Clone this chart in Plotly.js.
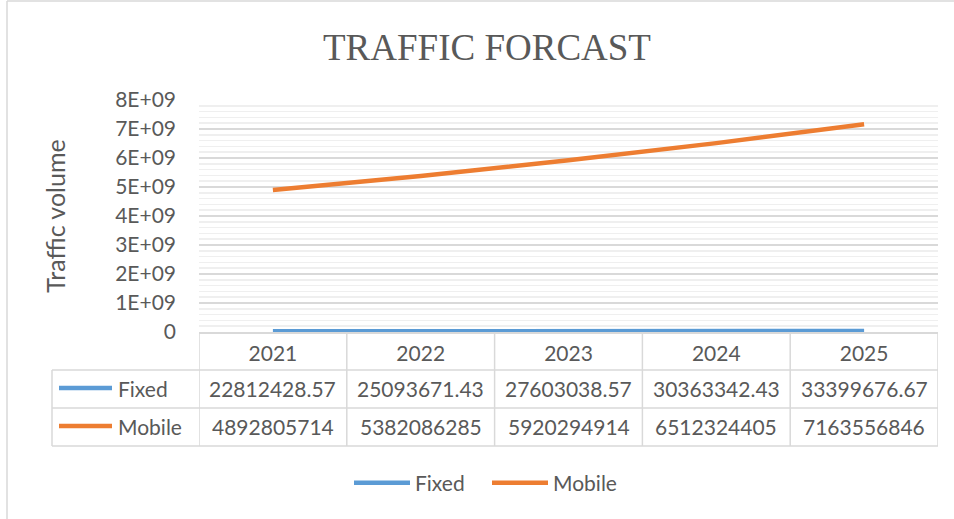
<!DOCTYPE html>
<html>
<head>
<meta charset="utf-8">
<script src="https://cdn.plot.ly/plotly-3.0.1.min.js"></script>
<style>
html,body{margin:0;padding:0;background:#fff;}
#chart{width:954px;height:519px;}
</style>
</head>
<body>
<div id="chart"></div>
<script>
// ---- data ----
const categories = ["2021", "2022", "2023", "2024", "2025"];
const seriesNames = ["Fixed", "Mobile"];
const fixedValues = [22812428.57, 25093671.43, 27603038.57, 30363342.43, 33399676.67];
const mobileValues = [4892805714, 5382086285, 5920294914, 6512324405, 7163556846];
const yTickVals = [0, 1e9, 2e9, 3e9, 4e9, 5e9, 6e9, 7e9, 8e9];
const yTickText = ["0", "1E+09", "2E+09", "3E+09", "4E+09", "5E+09", "6E+09", "7E+09", "8E+09"];
const seriesColors = ["#5B9BD5", "#ED7D31"];

// ---- layout geometry (pixels) ----
const W = 954, H = 519;
const M = {l: 199, r: 16, t: 100, b: 187};
const PW = W - M.l - M.r, PH = H - M.t - M.b;
const px2x = p => (p - M.l) / PW;          // page px -> paper x
const py2y = p => (H - M.b - p) / PH;      // page py -> paper y

const TXT = '#595959', GRID = '#d9d9d9', FONT = 'Lato, "Open Sans", sans-serif';
const FS = 21;

const allValues = [fixedValues, mobileValues];
const traces = seriesNames.map((name, i) => ({
  type: 'scatter', mode: 'lines', name: name,
  x: categories, y: allValues[i],
  line: {color: seriesColors[i], width: 4.5},
  hoverinfo: 'skip'
}));

// ---- data table (shapes + annotations) ----
const shapes = [];
const annotations = [];
const rowTop = 332, rowH = 38;
const tableBottom = rowTop + 3 * rowH;
for (let i = 0; i <= categories.length; i++) {
  shapes.push({type: 'line', xref: 'x', yref: 'paper', x0: i - 0.5, x1: i - 0.5,
    y0: py2y(rowTop), y1: py2y(tableBottom), line: {color: GRID, width: 1.5}});
}
shapes.push({type: 'line', xref: 'paper', yref: 'paper', x0: px2x(52), x1: px2x(52),
  y0: py2y(rowTop + rowH), y1: py2y(tableBottom), line: {color: GRID, width: 1.5}});
for (let r = 1; r <= 3; r++) {
  shapes.push({type: 'line', xref: 'paper', yref: 'paper', x0: px2x(52), x1: 1,
    y0: py2y(rowTop + r * rowH), y1: py2y(rowTop + r * rowH), line: {color: GRID, width: 1.5}});
}
seriesNames.forEach((name, s) => {
  const cy = rowTop + (s + 1.5) * rowH - 1;
  shapes.push({type: 'line', xref: 'paper', yref: 'paper', x0: px2x(59), x1: px2x(112),
    y0: py2y(cy), y1: py2y(cy), line: {color: seriesColors[s], width: 4.5}});
  annotations.push({xref: 'paper', yref: 'paper', x: px2x(116), y: py2y(cy), xanchor: 'left', yanchor: 'middle',
    text: name, showarrow: false, font: {family: FONT, size: FS, color: TXT}});
  allValues[s].forEach((v, i) => {
    annotations.push({xref: 'x', yref: 'paper', x: i, y: py2y(cy), xanchor: 'center', yanchor: 'middle',
      text: String(v), showarrow: false, font: {family: FONT, size: FS, color: TXT}});
  });
});
// chart outer border (left and top)
shapes.push({type: 'line', xref: 'paper', yref: 'paper', x0: px2x(7), x1: px2x(7), y0: py2y(1), y1: py2y(H + 5), line: {color: GRID, width: 1.5}});
shapes.push({type: 'line', xref: 'paper', yref: 'paper', x0: px2x(7), x1: px2x(W + 5), y0: py2y(1), y1: py2y(1), line: {color: GRID, width: 1.5}});

const layout = {
  width: W, height: H,
  margin: M,
  paper_bgcolor: '#ffffff', plot_bgcolor: '#ffffff',
  title: {text: 'TRAFFIC FORCAST', font: {family: '"Liberation Serif", "Times New Roman", serif', size: 37, color: TXT},
    xref: 'container', x: 487 / W, xanchor: 'center', yref: 'container', y: 1 - 47 / H, yanchor: 'middle'},
  showlegend: true,
  legend: {orientation: 'h', xref: 'paper', yref: 'paper', x: px2x(349), y: py2y(483), xanchor: 'left', yanchor: 'middle',
    font: {family: FONT, size: FS, color: TXT}, itemwidth: 56, entrywidth: 67, entrywidthmode: 'pixels', bgcolor: 'rgba(0,0,0,0)'},
  xaxis: {type: 'category', range: [-0.5, categories.length - 0.5], showgrid: false, zeroline: false,
    showline: true, linecolor: GRID, linewidth: 1.5, ticks: '', ticklabelstandoff: 2,
    tickfont: {family: FONT, size: FS, color: TXT}, fixedrange: true},
  yaxis: {range: [0, 8e9], tickmode: 'array', tickvals: yTickVals, ticktext: yTickText,
    showgrid: true, gridcolor: GRID, gridwidth: 1.5, zeroline: false, showline: false, ticks: '',
    ticklabelstandoff: 22, tickfont: {family: FONT, size: FS, color: TXT},
    minor: {tickmode: 'linear', tick0: 0, dtick: 2e8, showgrid: true, gridcolor: '#efefef', gridwidth: 1.5},
    title: {text: 'Traffic volume', font: {family: FONT, size: 25, color: TXT}, standoff: 42}, fixedrange: true},
  shapes: shapes,
  annotations: annotations
};

Plotly.newPlot('chart', traces, layout, {displayModeBar: false, staticPlot: true});
</script>
</body>
</html>
